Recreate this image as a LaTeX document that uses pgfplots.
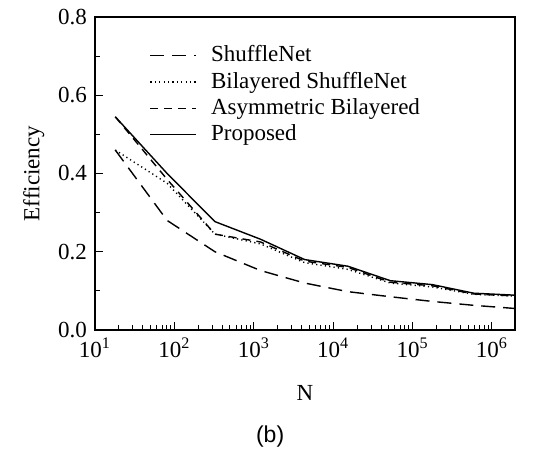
\documentclass[border=0pt]{standalone}
\usepackage{pgfplots}
\pgfplotsset{compat=1.18}
\usepackage{fontspec}
\setmainfont{Liberation Serif}
\setsansfont{Liberation Sans}
\begin{document}
\fontsize{11.5}{13.5}\selectfont
\begin{tikzpicture}
\path[use as bounding box] (-47.5pt,-62pt) rectangle (221pt,165pt);
\begin{axis}[
  at={(0,0)}, anchor=south west,
  scale only axis, width=210pt, height=156.5pt,
  clip mode=individual,
  xmode=log, xmin=10, xmax=1948617,
  ymin=0, ymax=0.8,
  xtick={10,100,1000,10000,100000,1000000},
  xticklabels={10\textsuperscript{1},10\textsuperscript{2},10\textsuperscript{3},10\textsuperscript{4},10\textsuperscript{5},10\textsuperscript{6}},
  ytick={0,0.2,0.4,0.6,0.8},
  yticklabels={0.0,0.2,0.4,0.6,0.8},
  minor ytick={0.1,0.3,0.5,0.7},
  tick align=inside, xtick pos=bottom, ytick pos=left,
  major tick length=4pt, minor tick length=2.5pt,
  /pgf/number format/assume math mode=true,
  axis line style={line width=0.8pt},
  every tick/.style={line width=0.5pt, black},
  xlabel={N}, ylabel={Efficiency},
  xlabel style={yshift=-6pt},
  ylabel style={yshift=-1pt},
  legend style={at={(0.115,0.935)}, anchor=north west, draw=none, fill=none,
    row sep=-0.6pt, font=\fontsize{11.5}{13.5}\selectfont,
    /tikz/every odd column/.append style={column sep=5pt}},
  legend cell align=left,
  legend image code/.code={\draw[#1] (0pt,0pt) -- (23pt,0pt);},
  every axis plot/.append style={line width=0.7pt, black},
]
\addplot[dash pattern=on 7pt off 4pt] coordinates {
(18,0.46) (81,0.28) (324,0.20) (1215,0.152) (4374,0.120) (15309,0.098) (52488,0.085) (177147,0.073) (590490,0.063) (1948617,0.055)};
\addlegendentry{ShuffleNet}
\addplot[dash pattern=on 0.6pt off 1.6pt] coordinates {
(18,0.46) (81,0.375) (324,0.245) (1215,0.220) (4374,0.172) (15309,0.155) (52488,0.120) (177147,0.110) (590490,0.091) (1948617,0.087)};
\addlegendentry{Bilayered ShuffleNet}
\addplot[dash pattern=on 4pt off 3pt] coordinates {
(18,0.545) (81,0.385) (324,0.245) (1215,0.225) (4374,0.176) (15309,0.160) (52488,0.122) (177147,0.113) (590490,0.092) (1948617,0.087)};
\addlegendentry{Asymmetric Bilayered}
\addplot[solid] coordinates {
(18,0.545) (81,0.40) (324,0.277) (1215,0.232) (4374,0.180) (15309,0.163) (52488,0.126) (177147,0.116) (590490,0.094) (1948617,0.089)};
\addlegendentry{Proposed}
\node[font=\sffamily\fontsize{11.5}{13.5}\selectfont] at (axis description cs:0.417,0) [yshift=-53.5pt] {(b)};
\end{axis}
\end{tikzpicture}
\end{document}
